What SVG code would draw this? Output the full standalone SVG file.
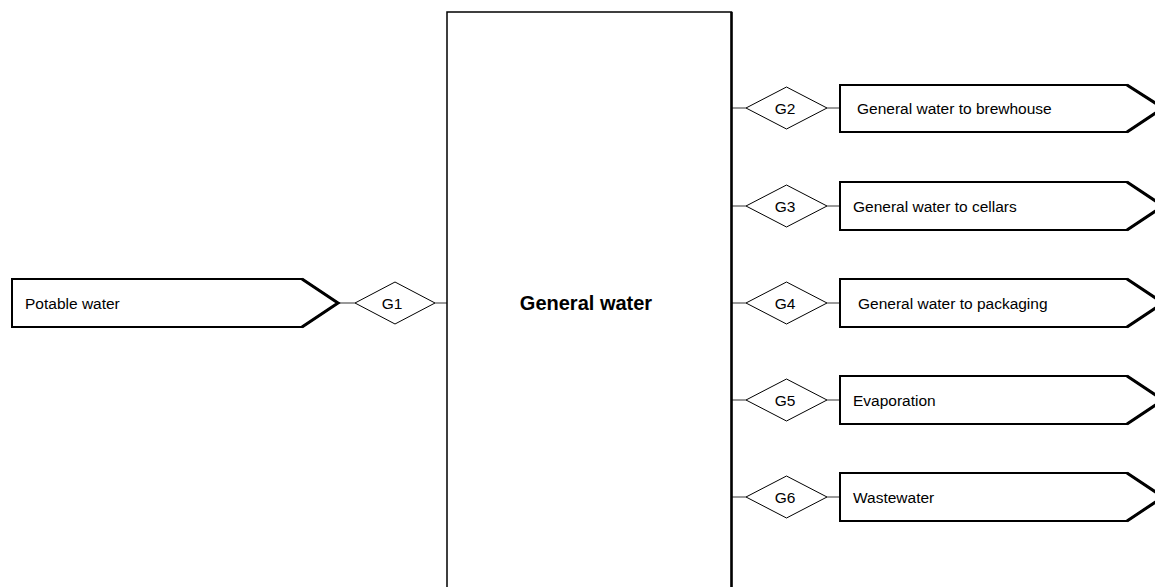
<svg xmlns="http://www.w3.org/2000/svg" width="1155" height="587" viewBox="0 0 1155 587">
<style>
.lbl{font-family:"Liberation Sans",Arial,sans-serif;font-size:15.5px;fill:#000}
.dl{font-family:"Liberation Sans",Arial,sans-serif;font-size:15.5px;fill:#000;text-anchor:middle}
.title{font-family:"Liberation Sans",Arial,sans-serif;font-size:20px;font-weight:bold;fill:#000;text-anchor:middle}
.box{fill:#fff;stroke:#000;stroke-width:2}
.bev{fill:none;stroke:#000;stroke-width:3}
.dia{fill:#fff;stroke:#000;stroke-width:1}
.con{stroke:#555;stroke-width:1.2;fill:none}
</style>
<rect width="1155" height="587" fill="#fff"/>
<g id="connectors">
<line class="con" x1="338" y1="303" x2="355" y2="303"/>
<line class="con" x1="435" y1="303" x2="447" y2="303"/>
<line class="con" x1="732" y1="108" x2="746" y2="108"/>
<line class="con" x1="827" y1="108" x2="840" y2="108"/>
<line class="con" x1="732" y1="206" x2="746" y2="206"/>
<line class="con" x1="827" y1="206" x2="840" y2="206"/>
<line class="con" x1="732" y1="303" x2="746" y2="303"/>
<line class="con" x1="827" y1="303" x2="840" y2="303"/>
<line class="con" x1="732" y1="400" x2="746" y2="400"/>
<line class="con" x1="827" y1="400" x2="840" y2="400"/>
<line class="con" x1="732" y1="497" x2="746" y2="497"/>
<line class="con" x1="827" y1="497" x2="840" y2="497"/>
</g>
<g id="general-water">
<rect x="447" y="12" width="284.5" height="590" fill="#fff" stroke="#000" stroke-width="1.5"/>
<line x1="731.5" y1="12" x2="731.5" y2="587" stroke="#000" stroke-width="2.5"/>
<text class="title" x="586" y="310">General water</text>
</g>
<g id="potable-water">
<polygon class="box" points="12,279 302,279 338,303 302,327 12,327"/>
<polyline class="bev" points="302,279 338,303 302,327"/>
<text class="lbl" x="25" y="308.5">Potable water</text>
</g>
<g id="g1">
<polygon class="dia" points="355,303 395,282 435,303 395,324"/>
<text class="dl" x="392" y="308.5">G1</text>
</g>
<g id="g2">
<polygon class="dia" points="746,108 786.5,87 827,108 786.5,129"/>
<text class="dl" x="785" y="113.5">G2</text>
</g>
<g id="g3">
<polygon class="dia" points="746,206 786.5,185 827,206 786.5,227"/>
<text class="dl" x="785" y="211.5">G3</text>
</g>
<g id="g4">
<polygon class="dia" points="746,303 786.5,282 827,303 786.5,324"/>
<text class="dl" x="785" y="308.5">G4</text>
</g>
<g id="g5">
<polygon class="dia" points="746,400 786.5,379 827,400 786.5,421"/>
<text class="dl" x="785" y="405.5">G5</text>
</g>
<g id="g6">
<polygon class="dia" points="746,497 786.5,476 827,497 786.5,518"/>
<text class="dl" x="785" y="502.5">G6</text>
</g>
<g id="brewhouse">
<polygon class="box" points="840,85 1127,85 1163,108 1127,132 840,132"/>
<polyline class="bev" points="1127,85 1163,108 1127,132"/>
<text class="lbl" x="857" y="113.5">General water to brewhouse</text>
</g>
<g id="cellars">
<polygon class="box" points="840,182 1127,182 1163,206 1127,230 840,230"/>
<polyline class="bev" points="1127,182 1163,206 1127,230"/>
<text class="lbl" x="853" y="211.5">General water to cellars</text>
</g>
<g id="packaging">
<polygon class="box" points="840,279 1127,279 1163,303 1127,327 840,327"/>
<polyline class="bev" points="1127,279 1163,303 1127,327"/>
<text class="lbl" x="858" y="308.5">General water to packaging</text>
</g>
<g id="evaporation">
<polygon class="box" points="840,376 1127,376 1163,400 1127,424 840,424"/>
<polyline class="bev" points="1127,376 1163,400 1127,424"/>
<text class="lbl" x="853" y="405.5">Evaporation</text>
</g>
<g id="wastewater">
<polygon class="box" points="840,473 1127,473 1163,497 1127,521 840,521"/>
<polyline class="bev" points="1127,473 1163,497 1127,521"/>
<text class="lbl" x="853" y="502.5">Wastewater</text>
</g>
</svg>
